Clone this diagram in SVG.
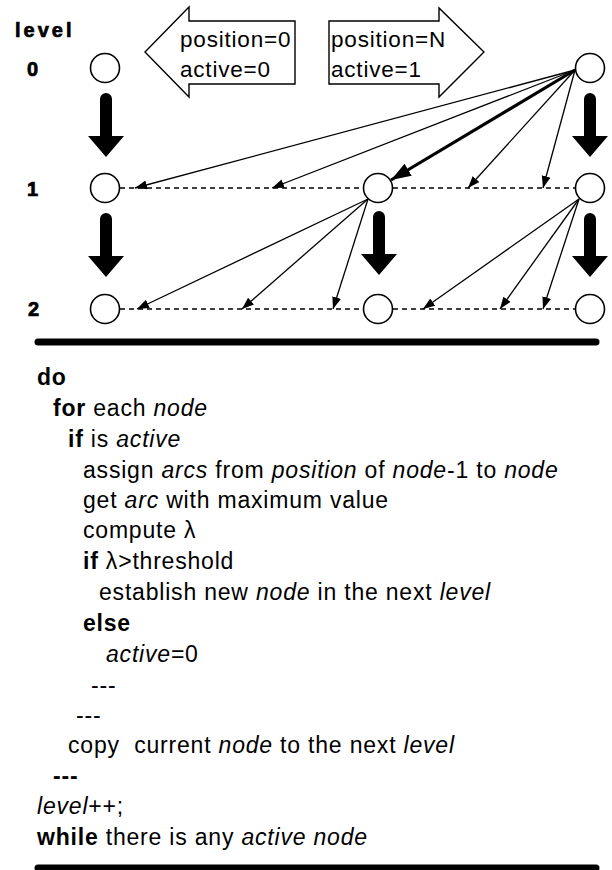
<svg xmlns="http://www.w3.org/2000/svg" width="612" height="870" viewBox="0 0 612 870">
  <style>
    text { font-family: "Liberation Sans", Arial, sans-serif; fill: #000; }
    .lvl { font-size: 20px; font-weight: bold; stroke: #000; stroke-width: 0.7px; }
    .note { font-size: 22.5px; letter-spacing: 0.8px; }
    .code { font-size: 23px; letter-spacing: 0.8px; }
    .b { font-weight: bold; }
    .i { font-style: italic; }
    .node { fill: #fff; stroke: #000; stroke-width: 1.6; }
    .shape { fill: #fff; stroke: #000; stroke-width: 1.4; }
    .arc { stroke: #000; stroke-width: 1.3; fill: none; marker-end: url(#head); }
    .arc-max { stroke: #000; stroke-width: 3.2; fill: none; marker-end: url(#headBig); }
    .dash { stroke: #000; stroke-width: 1.3; stroke-dasharray: 5 4; fill: none; }
    .bar { stroke: #000; stroke-width: 7; stroke-linecap: round; }
    .down { fill: #000; }
  </style>
  <defs>
    <marker id="head" markerUnits="userSpaceOnUse" markerWidth="13" markerHeight="10" refX="12" refY="4.5" orient="auto">
      <path d="M0,0 L12,4.5 L0,9 z" fill="#000"/>
    </marker>
    <marker id="headBig" markerUnits="userSpaceOnUse" markerWidth="21" markerHeight="15" refX="20" refY="7" orient="auto">
      <path d="M0,0 L20,7 L0,14 z" fill="#000"/>
    </marker>
    <!-- thick downward copy arrow, drawn with its tip at the origin -->
    <path id="down" d="M-6,-58 a6,6 0 0 1 12,0 V-21 H18 L0,0 L-18,-21 H-6 z"/>
  </defs>

  <!-- level labels -->
  <g id="labels">
    <text class="lvl" x="15" y="37" style="letter-spacing:3px">level</text>
    <text class="lvl" x="27" y="76">0</text>
    <text class="lvl" x="27" y="196">1</text>
    <text class="lvl" x="28" y="316">2</text>
  </g>

  <!-- block arrows with their settings -->
  <g id="note-left">
    <polygon class="shape" points="145,52 189,7 189,21 295,21 295,84 189,84 189,97"/>
    <text class="note" x="180" y="47">position=0</text>
    <text class="note" x="180" y="77">active=0</text>
  </g>
  <g id="note-right">
    <polygon class="shape" points="329,21 439,21 439,8 484,52 439,97 439,84 329,84"/>
    <text class="note" x="331" y="47">position=N</text>
    <text class="note" x="331" y="77">active=1</text>
  </g>

  <!-- connectors -->
  <g id="connectors">
    <!-- position lines of levels 1 and 2 -->
    <line class="dash" x1="120" y1="188" x2="363" y2="188"/>
    <line class="dash" x1="393" y1="188" x2="575" y2="188"/>
    <line class="dash" x1="120" y1="309" x2="363" y2="309"/>
    <line class="dash" x1="393" y1="309" x2="575" y2="309"/>

    <!-- arcs from the level 0 node -->
    <line class="arc" x1="575" y1="70" x2="135" y2="188"/>
    <line class="arc" x1="575" y1="70" x2="272" y2="188"/>
    <line class="arc-max" x1="575" y1="70" x2="391" y2="180"/>
    <line class="arc" x1="575" y1="70" x2="468" y2="188"/>
    <line class="arc" x1="575" y1="70" x2="543" y2="188"/>

    <!-- arcs from the level 1 nodes -->
    <line class="arc" x1="368" y1="199" x2="137" y2="309"/>
    <line class="arc" x1="368" y1="199" x2="242" y2="309"/>
    <line class="arc" x1="368" y1="199" x2="333" y2="309"/>
    <line class="arc" x1="579" y1="199" x2="423" y2="309"/>
    <line class="arc" x1="579" y1="199" x2="500" y2="309"/>
    <line class="arc" x1="579" y1="199" x2="543" y2="309"/>

    <!-- copy arrows to the next level -->
    <use class="down" href="#down" x="106" y="157"/>
    <use class="down" href="#down" x="590" y="157"/>
    <use class="down" href="#down" x="106" y="277"/>
    <use class="down" href="#down" x="379" y="275"/>
    <use class="down" href="#down" x="590" y="277"/>
  </g>

  <!-- nodes -->
  <g id="n0a"><circle class="node" cx="105" cy="68" r="14.5"/></g>
  <g id="n0b"><circle class="node" cx="590" cy="68" r="14.5"/></g>
  <g id="n1a"><circle class="node" cx="105" cy="188" r="14.5"/></g>
  <g id="n1b"><circle class="node" cx="378" cy="188" r="14.5"/></g>
  <g id="n1c"><circle class="node" cx="590" cy="188" r="14.5"/></g>
  <g id="n2a"><circle class="node" cx="105" cy="309" r="14.5"/></g>
  <g id="n2b"><circle class="node" cx="378" cy="309" r="14.5"/></g>
  <g id="n2c"><circle class="node" cx="590" cy="309" r="14.5"/></g>

  <!-- separators -->
  <line class="bar" x1="38" y1="342" x2="596" y2="342"/>
  <line class="bar" x1="38" y1="868" x2="596" y2="868"/>

  <!-- algorithm listing -->
  <g id="listing" class="code">
    <text class="code" x="37" y="385"><tspan class="b">do</tspan></text>
    <text class="code" x="53" y="416"><tspan class="b">for</tspan> each <tspan class="i">node</tspan></text>
    <text class="code" x="68" y="447"><tspan class="b">if</tspan> is <tspan class="i">active</tspan></text>
    <text class="code" x="83" y="478">assign <tspan class="i">arcs</tspan> from <tspan class="i">position</tspan> of <tspan class="i">node</tspan>-1 to <tspan class="i">node</tspan></text>
    <text class="code" x="83" y="508">get <tspan class="i">arc</tspan> with maximum value</text>
    <text class="code" x="83" y="538">compute λ</text>
    <text class="code" x="83" y="569"><tspan class="b">if</tspan> λ&gt;threshold</text>
    <text class="code" x="99" y="600">establish new <tspan class="i">node</tspan> in the next <tspan class="i">level</tspan></text>
    <text class="code" x="83" y="631"><tspan class="b">else</tspan></text>
    <text class="code" x="106" y="662"><tspan class="i">active</tspan>=0</text>
    <text class="code" x="91" y="693">---</text>
    <text class="code" x="76" y="723">---</text>
    <text class="code" x="68" y="753" xml:space="preserve">copy  current <tspan class="i">node</tspan> to the next <tspan class="i">level</tspan></text>
    <text class="code" x="53" y="784"><tspan class="b">---</tspan></text>
    <text class="code" x="37" y="814"><tspan class="i">level</tspan>++;</text>
    <text class="code" x="37" y="845"><tspan class="b">while</tspan> there is any <tspan class="i">active node</tspan></text>
  </g>
</svg>
